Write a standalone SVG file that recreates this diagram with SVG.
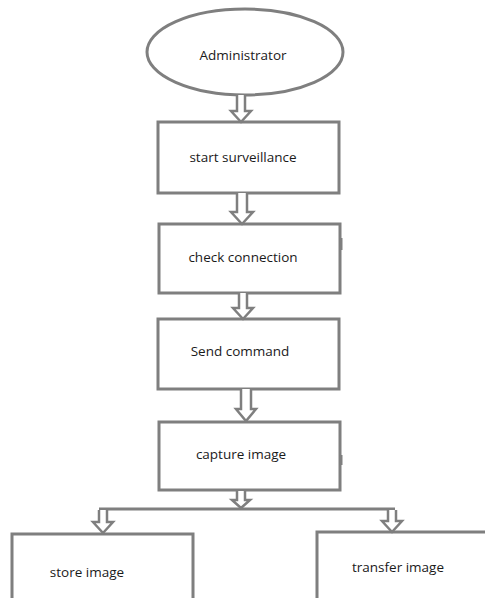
<svg xmlns="http://www.w3.org/2000/svg" width="485" height="598" viewBox="0 0 485 598">
<style>
.box{fill:#fff;stroke:#7f7f7f;stroke-width:3}
.arr{fill:#fff;stroke:#7f7f7f;stroke-width:2.5;stroke-linejoin:miter}
.ln{fill:none;stroke:#7f7f7f;stroke-width:3}
text{font-family:"Open Sans","Liberation Sans",sans-serif;font-size:13.5px;fill:#1a1a1a;text-anchor:middle}
</style>
<rect width="485" height="598" fill="#fff"/>
<g id="administrator">
<ellipse class="box" cx="245" cy="52" rx="98" ry="43"/>
<text x="243" y="60">Administrator</text>
</g>
<g id="start-surveillance">
<rect class="box" x="158" y="122" width="181" height="71"/>
<text x="243" y="162">start surveillance</text>
</g>
<g id="check-connection">
<rect class="box" x="159" y="224" width="181" height="69"/>
<text x="243" y="262">check connection</text>
</g>
<g id="send-command">
<rect class="box" x="158" y="319" width="181" height="70"/>
<text x="240" y="356">Send command</text>
</g>
<g id="capture-image">
<rect class="box" x="159" y="422" width="181" height="68"/>
<text x="241" y="459">capture image</text>
</g>
<g id="store-image">
<rect class="box" x="12" y="534" width="181" height="80"/>
<text x="87" y="577">store image</text>
</g>
<g id="transfer-image">
<rect class="box" x="317" y="532" width="180" height="80"/>
<text x="398" y="572">transfer image</text>
</g>
<g id="connectors">
<path class="arr" d="M237,95 V111 H231 L241,122 L251,111 H245 V95"/>
<path class="arr" d="M237,193 V212 H231 L242,224 L253,212 H247 V193"/>
<path class="arr" d="M239,293 V308 H233 L243,319 L253,308 H247 V293"/>
<path class="arr" d="M241,389 V409 H236 L246,421 L256,409 H251 V389"/>
<path class="arr" d="M237,491 V500 H232 L241,508 L250,500 H245 V491"/>
<path class="ln" d="M99,509 H395"/>
<path class="arr" d="M99,510 V522 H93 L103,533 L113,522 H107 V510"/>
<path class="arr" d="M388,510 V521 H382 L392,532 L402,521 H396 V510"/>
<path class="ln" d="M341,238 V250" stroke-width="2"/>
<path class="ln" d="M341,455 V465" stroke-width="2"/>
</g>
</svg>
